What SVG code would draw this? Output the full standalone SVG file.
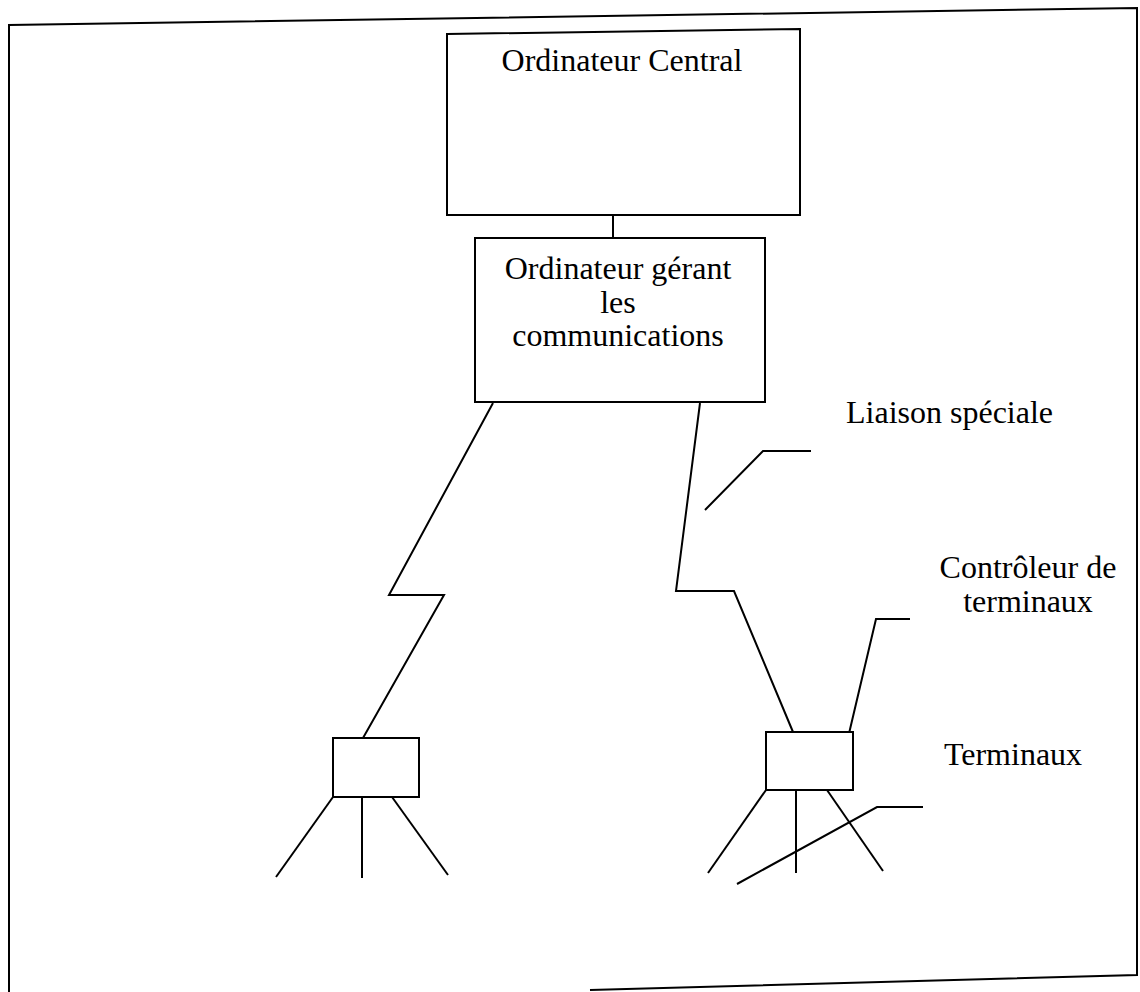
<svg xmlns="http://www.w3.org/2000/svg" width="1140" height="992" viewBox="0 0 1140 992">
<style>
.ln{fill:none;stroke:#000;stroke-width:2;stroke-linejoin:miter}
.bx{fill:#fff;stroke:#000;stroke-width:2}
.t{font-family:"Liberation Serif","Times New Roman",serif;font-size:32px;fill:#000}
.c{text-anchor:middle}
</style>
<rect width="1140" height="992" fill="#fff"/>
<g id="frame">
<path class="ln" d="M9,992 L9,25 L1137,8 L1137,975 L590,990"/>
</g>
<g id="connectors">
<line class="ln" x1="613" y1="215" x2="613" y2="238"/>
<polyline class="ln" points="493,403 389,595 444,595 363,738"/>
<polyline class="ln" points="700,403 676,591 734,591 793,732"/>
<line class="ln" x1="333" y1="797" x2="276" y2="877"/>
<line class="ln" x1="362" y1="797" x2="362" y2="878"/>
<line class="ln" x1="392" y1="797" x2="448" y2="875"/>
<line class="ln" x1="766" y1="790" x2="708" y2="873"/>
<line class="ln" x1="796" y1="790" x2="796" y2="873"/>
<line class="ln" x1="827" y1="790" x2="883" y2="871"/>
<polyline class="ln" points="811,451 763,451 705,510"/>
<polyline class="ln" points="910,619 876,619 847,742"/>
<polyline class="ln" points="923,807 877,807 737,884"/>
</g>
<g id="central">
<path class="bx" d="M447,34 L800,29 L800,215 L447,215 Z"/>
<text class="t c" x="622" y="71">Ordinateur Central</text>
</g>
<g id="comm">
<rect class="bx" x="475" y="238" width="290" height="164"/>
<text class="t c" x="618" y="279">Ordinateur gérant</text>
<text class="t c" x="618" y="313">les</text>
<text class="t c" x="618" y="346">communications</text>
</g>
<g id="ctrl-left">
<rect class="bx" x="333" y="738" width="86" height="59"/>
</g>
<g id="ctrl-right">
<rect class="bx" x="766" y="732" width="87" height="58"/>
</g>
<g id="label-liaison">
<text class="t" x="846" y="423">Liaison spéciale</text>
</g>
<g id="label-controleur">
<text class="t c" x="1028" y="578">Contrôleur de</text>
<text class="t c" x="1028" y="612">terminaux</text>
</g>
<g id="label-terminaux">
<text class="t c" x="1013" y="765">Terminaux</text>
</g>
</svg>
